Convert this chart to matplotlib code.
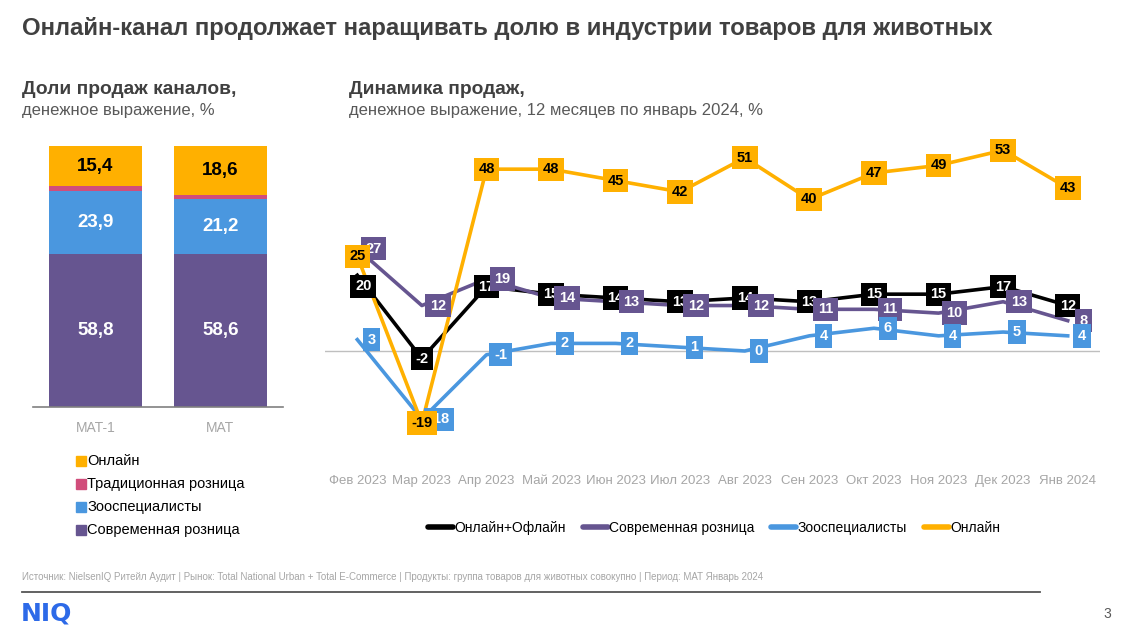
import matplotlib
matplotlib.use("Agg")
import matplotlib.pyplot as plt
from matplotlib.lines import Line2D
from matplotlib.patches import Rectangle

# ---------------- data ----------------
bar_cats = ["MAT-1", "MAT"]
share_modern = [58.8, 58.6]
share_zoo = [23.9, 21.2]
share_trad = [1.9, 1.6]
share_online = [15.4, 18.6]
share_labels_modern = ["58,8", "58,6"]
share_labels_zoo = ["23,9", "21,2"]
share_labels_online = ["15,4", "18,6"]
bar_legend = ["Онлайн", "Традиционная розница", "Зооспециалисты", "Современная розница"]

months = ["Фев 2023", "Мар 2023", "Апр 2023", "Май 2023", "Июн 2023", "Июл 2023",
          "Авг 2023", "Сен 2023", "Окт 2023", "Ноя 2023", "Дек 2023", "Янв 2024"]
total = [20, -2, 17, 15, 14, 13, 14, 13, 15, 15, 17, 12]
modern = [27, 12, 19, 14, 13, 12, 12, 11, 11, 10, 13, 8]
zoo = [3, -18, -1, 2, 2, 1, 0, 4, 6, 4, 5, 4]
online = [25, -19, 48, 48, 45, 42, 51, 40, 47, 49, 53, 43]
line_names = ["Онлайн+Офлайн", "Современная розница", "Зооспециалисты", "Онлайн"]

# ---------------- style ----------------
C_ORANGE = "#FFB000"
C_PINK = "#D14D7B"
C_BLUE = "#4A97DF"
C_PURPLE = "#665590"
C_BLACK = "#000000"
C_DARK = "#404040"
C_GREY = "#A6A6A6"

plt.rcParams["font.family"] = ["Liberation Sans", "DejaVu Sans"]

W, H = 1133, 634
fig = plt.figure(figsize=(W / 100, H / 100), dpi=100)


def px_axes(l, t, r, b):
    return fig.add_axes([l / W, 1 - b / H, (r - l) / W, (b - t) / H])


def ftext(x, y, s, **kw):
    kw.setdefault("va", "center")
    fig.text(x / W, 1 - y / H, s, **kw)


# titles
ftext(22, 28, "Онлайн-канал продолжает наращивать долю в индустрии товаров для животных",
      fontsize=17.2, fontweight="bold", color=C_DARK)
ftext(22, 89, "Доли продаж каналов,", fontsize=13.8, fontweight="bold", color=C_DARK)
ftext(22, 110, "денежное выражение, %", fontsize=12, color="#595959")
ftext(349, 89, "Динамика продаж,", fontsize=13.8, fontweight="bold", color=C_DARK)
ftext(349, 110, "денежное выражение, 12 месяцев по январь 2024, %", fontsize=12, color="#595959")

# ---------------- stacked bars ----------------
axb = px_axes(33, 146, 283, 407)
x = list(range(len(bar_cats)))
bw = 0.744
b0 = [0, 0]
b1 = [a + b for a, b in zip(b0, share_modern)]
b2 = [a + b for a, b in zip(b1, share_zoo)]
b3 = [a + b for a, b in zip(b2, share_trad)]
axb.bar(x, share_modern, bw, bottom=b0, color=C_PURPLE)
axb.bar(x, share_zoo, bw, bottom=b1, color=C_BLUE)
axb.bar(x, share_trad, bw, bottom=b2, color=C_PINK)
axb.bar(x, share_online, bw, bottom=b3, color=C_ORANGE)
for i in x:
    axb.text(i, b0[i] + share_modern[i] / 2, share_labels_modern[i], ha="center", va="center",
             color="white", fontsize=13.5, fontweight="bold")
    axb.text(i, b1[i] + share_zoo[i] / 2, share_labels_zoo[i], ha="center", va="center",
             color="white", fontsize=13.5, fontweight="bold")
    axb.text(i, b3[i] + share_online[i] / 2, share_labels_online[i], ha="center", va="center",
             color="black", fontsize=13.5, fontweight="bold")
axb.set_xlim(-0.5, 1.5)
axb.set_ylim(0, 100)
for s in ["top", "right", "left"]:
    axb.spines[s].set_visible(False)
axb.spines["bottom"].set_color("#808080")
axb.spines["bottom"].set_linewidth(1.2)
axb.set_yticks([])
axb.set_xticks(x)
axb.set_xticklabels(bar_cats, color=C_GREY, fontsize=10)
axb.tick_params(axis="x", length=0, pad=10)

# bar legend
for k, (name, col) in enumerate(zip(bar_legend, [C_ORANGE, C_PINK, C_BLUE, C_PURPLE])):
    yy = 461 + 23 * k
    fig.patches.append(Rectangle(((76) / W, 1 - (yy + 5) / H), 10 / W, 10 / H,
                                 transform=fig.transFigure, color=col))
    ftext(87, yy, name, fontsize=10.5, color="black")

# ---------------- line chart ----------------
axl = px_axes(325, 140, 1100, 465)
xs = list(range(len(months)))
series = [
    (total, C_BLACK, "white", (0, 0)),
    (modern, C_PURPLE, "white", (16, 0)),
    (zoo, C_BLUE, "white", (14, 0)),
    (online, C_ORANGE, "black", (0, 0)),
]
axl.axhline(0, color="#BFBFBF", lw=1, zorder=1)
for k, (vals, col, tcol, off) in enumerate(series):
    axl.plot(xs, vals, color=col, lw=2.6, zorder=2 + k, solid_joinstyle="round")
for k, (vals, col, tcol, off) in enumerate(series):
    for i, v in enumerate(vals):
        dx, dy = off
        if k == 0 and i == 0:
            dx, dy = 6, -11
        if k == 2 and i == 1:
            dx, dy = 17, 0
        axl.annotate(str(v), (i, v), xytext=(dx * 0.72, dy * 0.72), textcoords="offset points",
                     ha="center", va="center", color=tcol, fontsize=10.5, fontweight="bold",
                     bbox=dict(boxstyle="square,pad=0.32", fc=col, ec="none"),
                     zorder=10 + k, annotation_clip=False)
axl.set_xlim(-0.5, 11.5)
axl.set_ylim(-30.1, 55.7)
for s in axl.spines.values():
    s.set_visible(False)
axl.set_yticks([])
axl.set_xticks(xs)
axl.set_xticklabels(months, color=C_GREY, fontsize=9.5)
axl.tick_params(axis="x", length=0, pad=7)

handles = [Line2D([0], [0], color=c, lw=4, solid_capstyle="round")
           for c in [C_BLACK, C_PURPLE, C_BLUE, C_ORANGE]]
fig.legend(handles, line_names, loc="center", bbox_to_anchor=(714 / W, 1 - 528 / H), ncol=4,
           frameon=False, handlelength=1.8, handletextpad=0.1, columnspacing=1.2, fontsize=10)

# ---------------- footer ----------------
ftext(22, 577, "Источник: NielsenIQ Ритейл Аудит | Рынок: Total National Urban + Total E-Commerce | "
      "Продукты: группа товаров для животных совокупно | Период: MAT Январь 2024",
      fontsize=7, color=C_GREY)
fig.add_artist(Line2D([22 / W, 1040 / W], [1 - 592 / H, 1 - 592 / H], color="#555555", lw=1.3,
                      transform=fig.transFigure))
ftext(21, 613, "NIQ", fontsize=18, fontweight="bold", color="#2D6AE8", family="DejaVu Sans")
ftext(1107, 614, "3", fontsize=10, color="#595959", ha="center")

fig.savefig("out.png", dpi=100)
